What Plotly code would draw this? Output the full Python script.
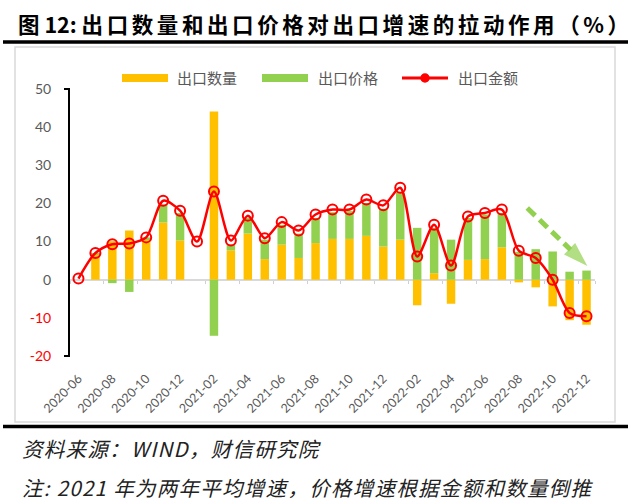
import plotly.graph_objects as go

months = ["2020-06", "2020-07", "2020-08", "2020-09", "2020-10", "2020-11", "2020-12",
          "2021-01", "2021-02", "2021-03", "2021-04", "2021-05", "2021-06", "2021-07",
          "2021-08", "2021-09", "2021-10", "2021-11", "2021-12", "2022-01", "2022-02",
          "2022-03", "2022-04", "2022-05", "2022-06", "2022-07", "2022-08", "2022-09",
          "2022-10", "2022-11", "2022-12"]

export_qty = [None, 6.6, 10.1, 12.9, 10.6, 15.0, 10.3, None, 44.1, 7.7, 12.1, 5.4, 9.2, 5.7,
              9.6, 10.7, 10.7, 11.5, 8.7, 10.5, -6.7, 1.7, -6.3, 5.2, 5.4, 8.5, -0.7, -2.0,
              -7.0, -10.6, -11.8]

export_price = [None, 0.4, -0.9, -3.2, 0.5, 4.7, 7.2, None, -14.7, 1.5, 4.1, 5.1, 5.2, 6.4,
                6.6, 7.0, 7.3, 8.6, 9.9, 12.3, 13.6, 11.9, 10.5, 11.0, 11.7, 9.0, 7.3, 8.0,
                7.4, 2.1, 2.4]

export_value = [0.3, 7.0, 9.3, 9.5, 11.1, 20.7, 18.1, 10.0, 23.1, 10.3, 16.8, 10.9, 15.1, 12.9,
                17.1, 18.4, 18.4, 21.0, 19.5, 24.1, 6.1, 14.4, 3.7, 16.6, 17.5, 18.4, 7.6, 5.7,
                0.0, -8.7, -9.6]

y_ticks = [-20, -10, 0, 10, 20, 30, 40, 50]
x_tick_labels = months[::2]

# trend arrow (annotation) in data coordinates: month index, percent
arrow_x = [26.5, 30.05]
arrow_y = [18.8, 3.6]

series_names = ["出口数量", "出口价格", "出口金额"]
YELLOW = "#ffc000"
GREEN = "#92d050"
RED = "#ff0000"
GRAY_TXT = "#595959"

idx = list(range(len(months)))

# plot-area pixel geometry
L, R, T, B = 70, 595, 89, 356
W, H = R - L, B - T


def pxx(x):
    return (x - L) / W


def pxy(y):
    return (B - y) / H


fig = go.Figure()
fig.add_trace(go.Bar(x=idx, y=export_qty, name=series_names[0], marker_color=YELLOW,
                     marker_line_width=0, width=0.5))
fig.add_trace(go.Bar(x=idx, y=export_price, name=series_names[1], marker_color=GREEN,
                     marker_line_width=0, width=0.5))
fig.add_trace(go.Scatter(x=idx, y=export_value, name=series_names[2], mode="lines+markers",
                         line=dict(color=RED, width=2.5, shape="spline", smoothing=0.8),
                         marker=dict(symbol="circle-open", size=10, color=RED,
                                     line=dict(width=2, color=RED))))
# dashed trend arrow
fig.add_trace(go.Scatter(x=arrow_x, y=arrow_y, mode="lines+markers", showlegend=False,
                         hoverinfo="skip",
                         line=dict(color=GREEN, width=5, dash="11px,6px"),
                         marker=dict(symbol=["circle", "arrow"], size=[0, 26], color=GREEN,
                                     angleref="previous", line=dict(width=0))))
# dummy trace to show small tick marks on the zero line
fig.add_trace(go.Scatter(x=[0], y=[0], xaxis="x2", mode="markers", showlegend=False,
                         hoverinfo="skip", marker=dict(opacity=0)))

tick_text = []
for v in y_ticks:
    if v < 0:
        tick_text.append('<span style="color:#ff0000">%d</span>' % v)
    else:
        tick_text.append(str(v))

fig.update_layout(
    width=640, height=503,
    margin=dict(l=L, r=640 - R, t=T, b=503 - B, pad=0),
    paper_bgcolor="white", plot_bgcolor="white",
    barmode="relative",
    showlegend=False,
    font=dict(family="Lato, 'Noto Sans CJK SC', sans-serif", color=GRAY_TXT),
    xaxis=dict(range=[-0.5, 30.5], tickmode="array", tickvals=idx[::2], ticktext=x_tick_labels,
               tickangle=-45, showgrid=False, zeroline=False, showline=False, ticks="",
               ticklabelstandoff=12, tickfont=dict(size=12.5, color=GRAY_TXT)),
    xaxis2=dict(overlaying="x", matches="x", anchor="free", position=20 / 70,
                tickmode="array", tickvals=[i - 0.5 for i in idx[::2]] + [30.5],
                ticks="outside", ticklen=3, tickwidth=1, tickcolor="#d0d0d0",
                showticklabels=False, showgrid=False, zeroline=False, showline=False),
    yaxis=dict(range=[-20, 50], tickmode="array", tickvals=y_ticks, ticktext=tick_text,
               showgrid=False, zeroline=True, zerolinecolor="#d9d9d9", zerolinewidth=2,
               showline=True, linecolor="black", linewidth=2, ticks="",
               ticklabelstandoff=14, tickfont=dict(size=14, color=GRAY_TXT)),
)

shapes = []
annos = []

# outer chart box
shapes.append(dict(type="rect", xref="paper", yref="paper", x0=pxx(15), x1=pxx(615),
                   y0=pxy(422), y1=pxy(47), line=dict(color="#d9d9d9", width=1.5),
                   layer="below"))
# thick black rules
shapes.append(dict(type="line", xref="paper", yref="paper", x0=pxx(3), x1=pxx(628),
                   y0=pxy(42), y1=pxy(42), line=dict(color="black", width=3.5)))
shapes.append(dict(type="line", xref="paper", yref="paper", x0=pxx(3), x1=pxx(628),
                   y0=pxy(426.5), y1=pxy(426.5), line=dict(color="black", width=3.5)))
# y axis end caps
for yy in (T, B):
    shapes.append(dict(type="line", xref="paper", yref="paper", x0=pxx(64), x1=pxx(70),
                       y0=pxy(yy), y1=pxy(yy), line=dict(color="black", width=2)))

# custom legend
leg_y = 78
shapes.append(dict(type="rect", xref="paper", yref="paper", x0=pxx(122), x1=pxx(168),
                   y0=pxy(82), y1=pxy(74), fillcolor=YELLOW, line=dict(width=0)))
shapes.append(dict(type="rect", xref="paper", yref="paper", x0=pxx(262), x1=pxx(308),
                   y0=pxy(82), y1=pxy(74), fillcolor=GREEN, line=dict(width=0)))
shapes.append(dict(type="line", xref="paper", yref="paper", x0=pxx(402), x1=pxx(448),
                   y0=pxy(leg_y), y1=pxy(leg_y), line=dict(color=RED, width=3)))
shapes.append(dict(type="circle", xref="paper", yref="paper", x0=pxx(421), x1=pxx(429),
                   y0=pxy(82), y1=pxy(74), fillcolor=RED, line=dict(color=RED, width=1.5)))
for xx, name in zip((175, 316, 456), series_names):
    annos.append(dict(xref="paper", yref="paper", x=pxx(xx), y=pxy(leg_y), text=name,
                      showarrow=False, xanchor="left", yanchor="middle",
                      font=dict(size=15, color=GRAY_TXT, family="Noto Sans CJK SC")))

# title
sp = "\u2006"
title_txt = "图 12:" + " " + sp.join("出口数量和出口价格对出口增速的拉动作用") + sp + "（" + sp + "%" + sp + "）"
annos.append(dict(xref="paper", yref="paper", x=pxx(16), y=pxy(23), text="<b>" + title_txt + "</b>",
                  showarrow=False, xanchor="left", yanchor="middle",
                  font=dict(size=21.5, color="black", family="Noto Sans CJK SC")))

# footer
hs = "\u200a"
foot1 = "资料来源：WIND，财信研究院"
foot2 = "注: 2021 年为两年平均增速，价格增速根据金额和数量倒推"
annos.append(dict(xref="paper", yref="paper", x=pxx(20), y=pxy(448),
                  text="<i>" + hs.join(foot1) + "</i>",
                  showarrow=False, xanchor="left", yanchor="middle",
                  font=dict(size=20.5, color="#222222", family="Noto Sans CJK SC")))
annos.append(dict(xref="paper", yref="paper", x=pxx(20), y=pxy(487),
                  text="<i>" + hs.join(foot2) + "</i>",
                  showarrow=False, xanchor="left", yanchor="middle",
                  font=dict(size=20.5, color="#222222", family="Noto Sans CJK SC")))

fig.update_layout(shapes=shapes, annotations=annos)

fig.write_html("out.html", config={"displayModeBar": False},
               post_script="document.body.style.margin='0';")
